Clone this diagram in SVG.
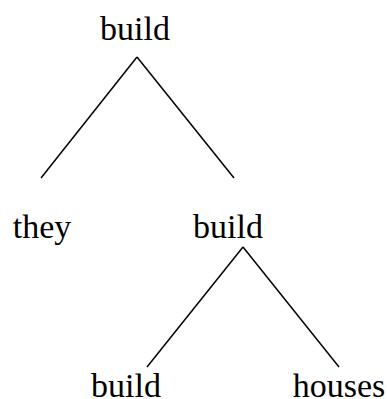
<svg xmlns="http://www.w3.org/2000/svg" width="387" height="399" viewBox="0 0 387 399">
<style>
text{font-family:"Liberation Serif","Times New Roman",serif;font-size:34px;fill:#000;text-anchor:middle}
line{stroke:#000;stroke-width:1.5}
</style>
<rect width="387" height="399" fill="#fff"/>
<g id="connectors">
<line x1="137" y1="57" x2="41" y2="178"/>
<line x1="137" y1="57" x2="234" y2="178"/>
<line x1="243" y1="247" x2="147" y2="367"/>
<line x1="243" y1="247" x2="339" y2="367"/>
</g>
<g id="n_build_top"><text x="135" y="40">build</text></g>
<g id="n_they"><text x="42" y="238">they</text></g>
<g id="n_build_mid"><text x="228" y="238">build</text></g>
<g id="n_build_bot"><text x="126" y="397">build</text></g>
<g id="n_houses"><text x="339" y="397">houses</text></g>
</svg>
